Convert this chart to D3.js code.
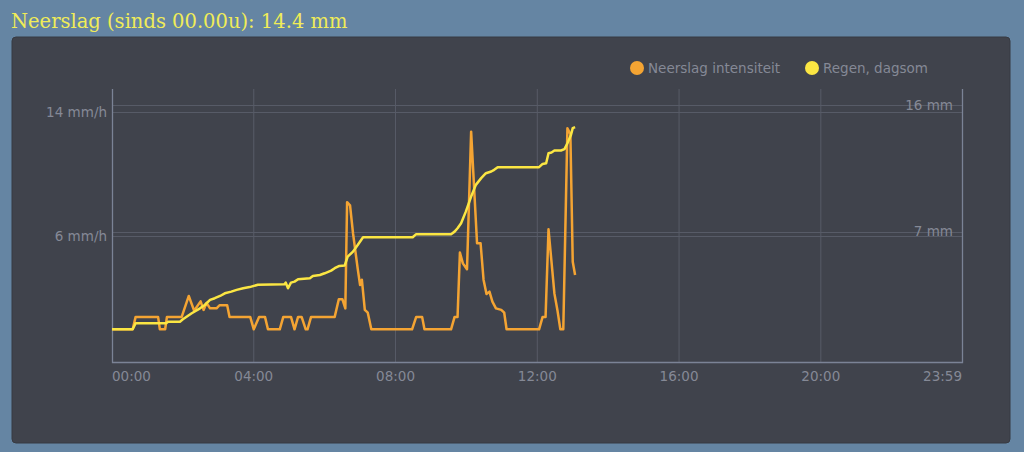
<!DOCTYPE html>
<html>
<head>
<meta charset="utf-8">
<script src="https://cdn.jsdelivr.net/npm/d3@7"></script>
<style>
  html, body { margin: 0; padding: 0; background: #6585a3; }
  svg { display: block; }
</style>
</head>
<body>
<div id="rainChart"></div>
<script>
//********************************************************************//
//                    DATA
//*******************************************************************//

// rain intensity (mm/h)
var rateTimes = ["00:00","00:35","00:40","01:18","01:21","01:30","01:33","01:58","02:10","02:19",
                 "02:30","02:35","02:40","02:46","02:57","03:02","03:15","03:19","03:54","04:00",
                 "04:09","04:19","04:24","04:44","04:50","05:03","05:09","05:15","05:21","05:28",
                 "05:31","05:37","06:17","06:24","06:30","06:35","06:38","06:43","06:48","06:56",
                 "07:00","07:03","07:08","07:13","07:19","08:28","08:35","08:45","08:49","09:34",
                 "09:40","09:45","09:49","09:54","10:01","10:08","10:18","10:24","10:29","10:34",
                 "10:39","10:44","10:50","10:59","11:04","11:08","12:03","12:09","12:14","12:19",
                 "12:29","12:34","12:39","12:44","12:51","12:56","13:00","13:04"];
var rateValues = [0, 0, 0.8, 0.8, 0, 0, 0.8, 0.8, 2.15, 1.2,
                  1.8, 1.25, 1.7, 1.35, 1.35, 1.55, 1.55, 0.8, 0.8, 0,
                  0.8, 0.8, 0, 0, 0.8, 0.8, 0, 0.8, 0.8, 0,
                  0, 0.8, 0.8, 1.94, 1.94, 1.35, 8.2, 8.0, 6.2, 3.9,
                  2.85, 3.2, 1.25, 1.07, 0, 0, 0.8, 0.8, 0, 0,
                  0.8, 0.8, 4.95, 4.25, 3.87, 12.75, 5.55, 5.55, 3.2, 2.28,
                  2.43, 1.78, 1.35, 1.25, 1.07, 0, 0, 0.8, 0.8, 6.45,
                  2.3, 1.25, 0, 0, 12.97, 12.6, 4.36, 3.5];

// rain day total (mm)
var sumTimes = ["00:00","00:35","00:40","01:32","01:35","01:55","02:00","02:15","02:29","02:37",
                "02:46","02:54","03:03","03:11","03:22","03:31","03:42","03:53","04:07","04:52",
                "04:54","04:58","05:03","05:09","05:15","05:35","05:40","05:52","06:00","06:11",
                "06:17","06:25","06:34","06:39","06:48","06:56","07:05","08:29","08:35","09:34",
                "09:40","09:45","09:51","09:59","10:08","10:16","10:25","10:33","10:42","10:47",
                "10:53","12:03","12:09","12:15","12:19","12:24","12:29","12:40","12:46","12:51",
                "12:57","13:00","13:04"];
var sumValues = [0.06, 0.06, 0.5, 0.5, 0.6, 0.6, 0.77, 1.2, 1.55, 1.79,
                 2.15, 2.27, 2.43, 2.62, 2.74, 2.86, 2.98, 3.06, 3.23, 3.26,
                 3.38, 2.98, 3.38, 3.45, 3.62, 3.69, 3.85, 3.92, 4.04, 4.23,
                 4.4, 4.56, 4.6, 5.22, 5.58, 6.05, 6.6, 6.6, 6.82, 6.82,
                 7.0, 7.24, 7.6, 8.42, 9.49, 10.32, 10.8, 11.15, 11.27, 11.39,
                 11.58, 11.58, 11.81, 11.86, 12.57, 12.62, 12.76, 12.76, 12.86, 13.28,
                 13.87, 14.35, 14.42];

var xTickLabels = ["00:00","04:00","08:00","12:00","16:00","20:00","23:59"];
var leftTicks = [6, 14];
var rightTicks = [7, 16];
var seriesNames = ["Neerslag intensiteit", "Regen, dagsom"];
var seriesColors = ["#f4a433", "#fbe643"];
var titleText = "Neerslag (sinds 00.00u): 14.4 mm";

//********************************************************************//
//                    CHART
//*******************************************************************//

function toMinutes(s) {
  var p = s.split(":");
  return +p[0] * 60 + +p[1];
}

var rateData = rateTimes.map(function(t, i) { return {m: toMinutes(t), v: rateValues[i]}; });
var sumData = sumTimes.map(function(t, i) { return {m: toMinutes(t), v: sumValues[i]}; });

var width = 1024, height = 452;
var margin = {top: 89, right: 62, bottom: 90, left: 112};

var svg = d3.select("#rainChart")
  .append("svg")
    .attr("width", width)
    .attr("height", height);

// title
svg.append("text")
   .attr("x", 11)
   .attr("y", 28)
   .style("font-family", "'DejaVu Serif', serif")
   .style("font-size", "19.5px")
   .style("fill", "#f0ec58")
   .text(titleText);

// dark panel
svg.append("rect")
   .attr("x", 12)
   .attr("y", 37)
   .attr("width", 998)
   .attr("height", 406)
   .attr("rx", 4)
   .style("fill", "#40434c")
   .style("stroke", "#373a42");

var x = d3.scaleLinear()
  .domain([0, toMinutes("23:59")])
  .range([margin.left, width - margin.right]);

var yLeft = d3.scaleLinear()
  .domain([-2.11, 15.5])
  .range([height - margin.bottom, margin.top]);

var yRight = d3.scaleLinear()
  .domain([-2.26, 17.13])
  .range([height - margin.bottom, margin.top]);

var gridColor = "#575b67";
var axisColor = "#7b8396";
var labelColor = "#858996";
var fontFam = "'DejaVu Sans', sans-serif";

// vertical grid
svg.append("g")
   .selectAll("line")
   .data(xTickLabels.slice(1, -1))
   .enter()
   .append("line")
     .attr("x1", function(d) { return x(toMinutes(d)); })
     .attr("x2", function(d) { return x(toMinutes(d)); })
     .attr("y1", margin.top)
     .attr("y2", height - margin.bottom)
     .style("stroke", gridColor)
     .style("stroke-width", 1);

// horizontal grid, both axes
svg.append("g")
   .selectAll("line")
   .data(leftTicks.map(function(d) { return yLeft(d); }).concat(rightTicks.map(function(d) { return yRight(d); })))
   .enter()
   .append("line")
     .attr("x1", margin.left)
     .attr("x2", width - margin.right)
     .attr("y1", function(d) { return Math.round(d) + 0.5; })
     .attr("y2", function(d) { return Math.round(d) + 0.5; })
     .style("stroke", gridColor)
     .style("stroke-width", 1.2);

// axis frame lines (left, right, bottom)
var x0 = margin.left + 0.5, x1 = width - margin.right + 0.5, yb = height - margin.bottom + 0.5;
svg.append("path")
   .attr("d", "M" + x0 + "," + margin.top + "V" + yb + "H" + x1 + "V" + margin.top)
   .style("fill", "none")
   .style("stroke", axisColor)
   .style("stroke-width", 1.3);

// x labels
svg.append("g")
   .selectAll("text")
   .data(xTickLabels)
   .enter()
   .append("text")
     .attr("x", function(d) { return x(toMinutes(d)); })
     .attr("y", height - margin.bottom + 19)
     .attr("text-anchor", function(d, i) { return i == 0 ? "start" : (i == xTickLabels.length - 1 ? "end" : "middle"); })
     .style("font-family", fontFam)
     .style("font-size", "13.5px")
     .style("fill", labelColor)
     .text(function(d) { return d; });

// left labels
svg.append("g")
   .selectAll("text")
   .data(leftTicks)
   .enter()
   .append("text")
     .attr("x", margin.left - 5)
     .attr("y", function(d) { return yLeft(d); })
     .attr("dy", "0.35em")
     .attr("text-anchor", "end")
     .style("font-family", fontFam)
     .style("font-size", "13.5px")
     .style("fill", labelColor)
     .text(function(d) { return d + " mm/h"; });

// right labels, drawn inside the plot
svg.append("g")
   .selectAll("text")
   .data(rightTicks)
   .enter()
   .append("text")
     .attr("x", width - margin.right - 9)
     .attr("y", function(d) { return yRight(d); })
     .attr("dy", "0.35em")
     .attr("text-anchor", "end")
     .style("font-family", fontFam)
     .style("font-size", "13.5px")
     .style("fill", labelColor)
     .text(function(d) { return d + " mm"; });

// lines
var rateLine = d3.line()
  .x(function(d) { return x(d.m); })
  .y(function(d) { return yLeft(d.v); });

var sumLine = d3.line()
  .x(function(d) { return x(d.m); })
  .y(function(d) { return yRight(d.v); });

svg.append("path")
   .datum(rateData)
   .attr("d", rateLine)
   .style("fill", "none")
   .style("stroke", seriesColors[0])
   .style("stroke-width", 2.5)
   .style("stroke-linejoin", "round");

svg.append("path")
   .datum(sumData)
   .attr("d", sumLine)
   .style("fill", "none")
   .style("stroke", seriesColors[1])
   .style("stroke-width", 2.5)
   .style("stroke-linejoin", "round");

// legend
var legendX = [637, 812];
var legend = svg.append("g")
  .selectAll("g")
  .data(seriesNames)
  .enter()
  .append("g")
    .attr("transform", function(d, i) { return "translate(" + legendX[i] + ",68)"; });

legend.append("circle")
   .attr("r", 7)
   .style("fill", function(d, i) { return seriesColors[i]; });

legend.append("text")
   .attr("x", 11)
   .attr("dy", "0.35em")
   .style("font-family", fontFam)
   .style("font-size", "13.5px")
   .style("fill", labelColor)
   .text(function(d) { return d; });
</script>
</body>
</html>
